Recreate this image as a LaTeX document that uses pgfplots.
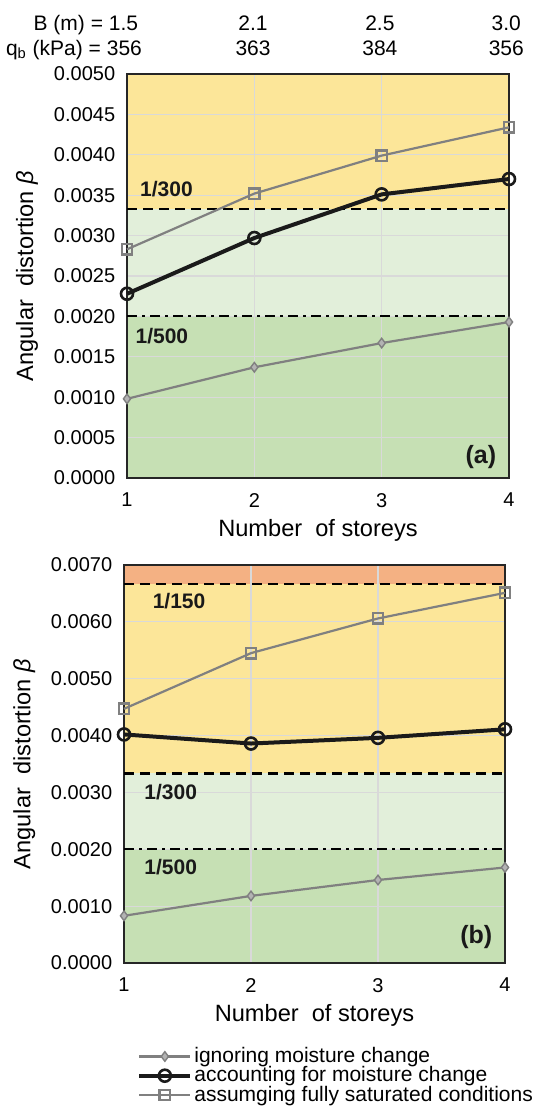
\documentclass[border=0pt]{standalone}
\usepackage{fontspec}
\setmainfont{Liberation Sans}
\usepackage{pgfplots}
\pgfplotsset{compat=1.18}
\definecolor{cyel}{HTML}{FCE699}
\definecolor{cltg}{HTML}{E2EFDA}
\definecolor{cgrn}{HTML}{C6E0B4}
\definecolor{corg}{HTML}{F4B183}
\definecolor{cgray}{HTML}{808080}
\definecolor{cblk}{HTML}{1A1A1A}
\definecolor{cgrid}{HTML}{D9D9D9}

\tikzset{
  lbl/.style={font=\fontsize{10.5}{12}\selectfont\bfseries, text=black!90, anchor=west},
  toplbl/.style={font=\fontsize{10.5}{12}\selectfont, inner sep=0pt},
}
\pgfplotsset{
  set layers,
  mystyle/.style={
    scale only axis, clip=false,
    xmin=1, xmax=4, xtick={1,2,3,4},
    grid=major, major grid style={cgrid, line width=0.6pt},
    major tick length=0pt,
    axis line style={black!85, line width=1pt},
    tick label style={font=\fontsize{10}{12}\selectfont},
    /pgf/number format/assume math mode=true,
    y tick label style={/pgf/number format/fixed, /pgf/number format/fixed zerofill, /pgf/number format/precision=4, xshift=-2.4pt},
    scaled y ticks=false,
    x tick label style={yshift=-4pt},
    label style={font=\fontsize{11.8}{13}\selectfont},
    xlabel={Number~~of storeys},
    xlabel style={at={(axis description cs:0.5,0)}, anchor=center, yshift=-26pt},
    ylabel={Angular~~distortion \textit{β}},
    ylabel style={at={(axis description cs:-0.262,0.5)}, anchor=center},
  },
  ign/.style={cgray, line width=1.1pt, mark=diamond*, mark size=2.4pt, mark options={fill=cgray!60, draw=cgray, line width=0.7pt, solid}},
  acc/.style={cblk, line width=2pt, mark=o, mark size=3pt, mark options={line width=1.3pt, solid}},
  sat/.style={cgray, line width=1.1pt, mark=square, mark size=2.6pt, mark options={line width=1.2pt, solid}},
  band/.style={draw=none, forget plot, on layer=axis background},
  thr/.style={black, line width=1.1pt, forget plot, dash pattern=on 5pt off 3pt},
  thrdd/.style={black, line width=1.1pt, forget plot, dash pattern=on 5pt off 2.5pt on 1.5pt off 2.5pt},
}

\begin{document}
\begin{tikzpicture}

% ---------------- (a) ----------------
\begin{axis}[mystyle,
  at={(63.5pt,-37pt)}, anchor=north west,
  width=191pt, height=202pt,
  ymin=0, ymax=0.005,
  ytick={0,0.0005,0.001,0.0015,0.002,0.0025,0.003,0.0035,0.004,0.0045,0.005},
]
\addplot[band, fill=cyel] coordinates {(1,0.005) (4,0.005)} \closedcycle;
\addplot[band, fill=cltg] coordinates {(1,0.0033333) (4,0.0033333)} \closedcycle;
\addplot[band, fill=cgrn] coordinates {(1,0.002) (4,0.002)} \closedcycle;
\addplot[thr] coordinates {(1,0.0033333) (4,0.0033333)};
\addplot[thrdd] coordinates {(1,0.002) (4,0.002)};

\addplot[ign] coordinates {(1,0.00098) (2,0.00137) (3,0.00167) (4,0.00193)};
\addplot[acc] coordinates {(1,0.00228) (2,0.00297) (3,0.00351) (4,0.00370)};
\addplot[sat] coordinates {(1,0.00283) (2,0.00352) (3,0.00399) (4,0.00434)};

\node[lbl] at (rel axis cs:0.016,0.715) {1/300};
\node[lbl] at (rel axis cs:0.004,0.350) {1/500};
\node[font=\fontsize{12.5}{14}\selectfont\bfseries, text=black!90, anchor=east] at (rel axis cs:0.985,0.052) {(a)};

\node[toplbl, anchor=base east] at (rel axis cs:0.030,1.108) {B (m) = 1.5};
\node[toplbl, anchor=base east] at (rel axis cs:0.040,1.046) {q\textsubscript{b} (kPa) = 356};
\node[toplbl, anchor=base] at (rel axis cs:0.330,1.108) {2.1};
\node[toplbl, anchor=base] at (rel axis cs:0.662,1.108) {2.5};
\node[toplbl, anchor=base] at (rel axis cs:0.993,1.108) {3.0};
\node[toplbl, anchor=base] at (rel axis cs:0.330,1.046) {363};
\node[toplbl, anchor=base] at (rel axis cs:0.662,1.046) {384};
\node[toplbl, anchor=base] at (rel axis cs:0.993,1.046) {356};
\end{axis}

% ---------------- (b) ----------------
\begin{axis}[mystyle,
  at={(62pt,-282.5pt)}, anchor=north west,
  width=190.5pt, height=199pt,
  ymin=0, ymax=0.007,
  ytick={0,0.001,0.002,0.003,0.004,0.005,0.006,0.007},
  legend cell align=left,
  legend image code/.code={\draw[mark repeat=2,mark phase=2] plot coordinates {(0pt,0pt) (12.75pt,0pt) (25.5pt,0pt)};},
  legend style={at={(axis description cs:0.034,-0.206)}, anchor=north west, draw=none, fill=none,
    inner sep=0pt, row sep=-1.5pt, font=\fontsize{10.5}{12}\selectfont, nodes={inner sep=1pt}},
]
\addplot[band, fill=corg] coordinates {(1,0.007) (4,0.007)} \closedcycle;
\addplot[band, fill=cyel] coordinates {(1,0.0066667) (4,0.0066667)} \closedcycle;
\addplot[band, fill=cltg] coordinates {(1,0.0033333) (4,0.0033333)} \closedcycle;
\addplot[band, fill=cgrn] coordinates {(1,0.002) (4,0.002)} \closedcycle;
\addplot[thr] coordinates {(1,0.0066667) (4,0.0066667)};
\addplot[thr] coordinates {(1,0.0033333) (4,0.0033333)};
\addplot[thrdd] coordinates {(1,0.002) (4,0.002)};

\addplot[ign] coordinates {(1,0.00083) (2,0.00118) (3,0.00146) (4,0.00168)};
\addlegendentry{ignoring moisture change}
\addplot[acc] coordinates {(1,0.00402) (2,0.00386) (3,0.00396) (4,0.00411)};
\addlegendentry{accounting for moisture change}
\addplot[sat] coordinates {(1,0.00447) (2,0.00545) (3,0.00606) (4,0.00651)};
\addlegendentry{assumging fully saturated conditions}

\node[lbl] at (rel axis cs:0.057,0.910) {1/150};
\node[lbl] at (rel axis cs:0.035,0.430) {1/300};
\node[lbl] at (rel axis cs:0.035,0.240) {1/500};
\node[font=\fontsize{12.5}{14}\selectfont\bfseries, text=black!90, anchor=east] at (rel axis cs:0.985,0.065) {(b)};
\end{axis}
\pgfresetboundingbox
\path[use as bounding box] (0,0) rectangle (276.5pt,-553pt);
\end{tikzpicture}
\end{document}
